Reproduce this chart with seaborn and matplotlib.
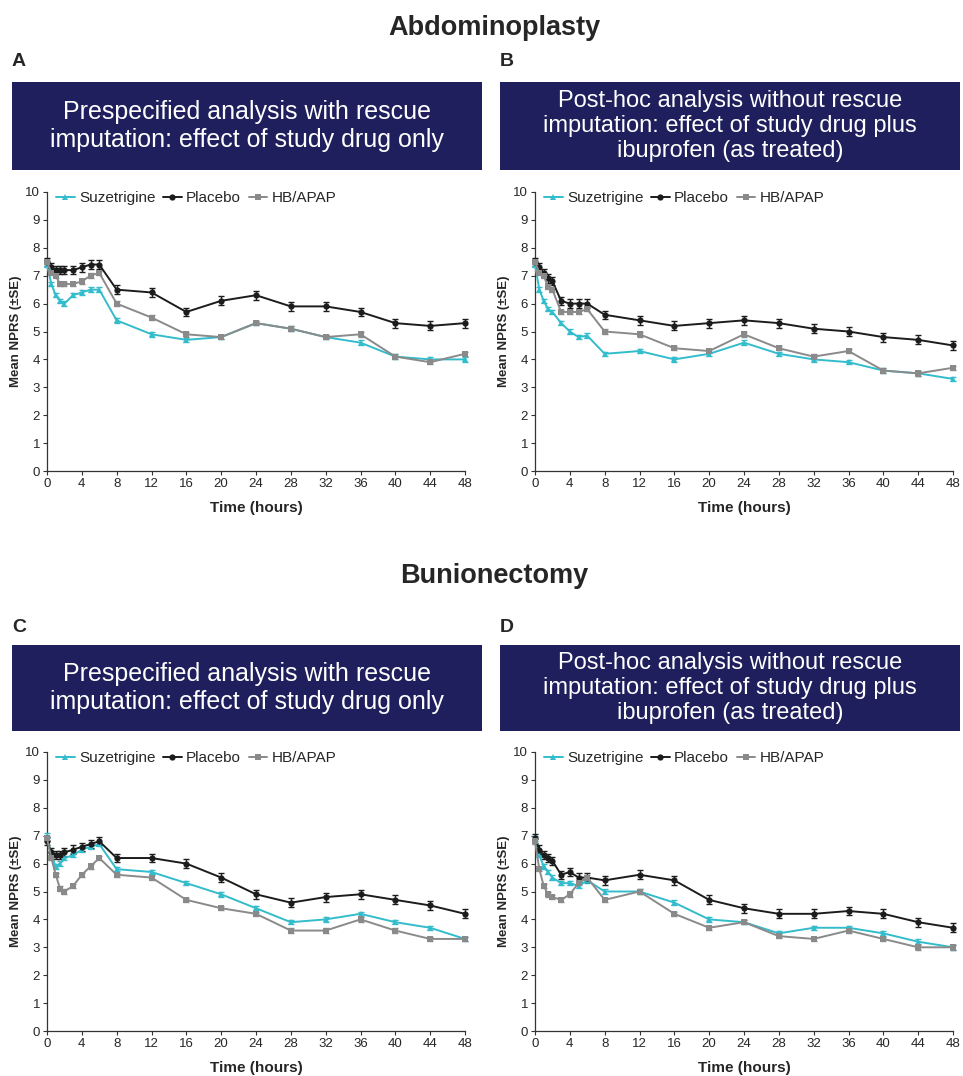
import numpy as np
import pandas as pd
import matplotlib
matplotlib.use("Agg")
import matplotlib.pyplot as plt
import seaborn as sns
from matplotlib.patches import Rectangle

sns.set_style("ticks")
plt.rcParams['font.family'] = ['Liberation Sans', 'DejaVu Sans']

# ---------------- data ----------------
times = [0, 0.5, 1, 1.5, 2, 3, 4, 5, 6, 8, 12, 16, 20, 24, 28, 32, 36, 40, 44, 48]
groups = ["Suzetrigine", "Placebo", "HB/APAP"]
xticks = [0, 4, 8, 12, 16, 20, 24, 28, 32, 36, 40, 44, 48]
yticks = [0, 1, 2, 3, 4, 5, 6, 7, 8, 9, 10]

# Panel A: Abdominoplasty, prespecified
A_suz = [7.4, 6.7, 6.3, 6.1, 6.0, 6.3, 6.4, 6.5, 6.5, 5.4, 4.9, 4.7, 4.8, 5.3, 5.1, 4.8, 4.6, 4.1, 4.0, 4.0]
A_pla = [7.5, 7.3, 7.2, 7.2, 7.2, 7.2, 7.3, 7.4, 7.4, 6.5, 6.4, 5.7, 6.1, 6.3, 5.9, 5.9, 5.7, 5.3, 5.2, 5.3]
A_hb  = [7.5, 7.1, 7.0, 6.7, 6.7, 6.7, 6.8, 7.0, 7.1, 6.0, 5.5, 4.9, 4.8, 5.3, 5.1, 4.8, 4.9, 4.1, 3.9, 4.2]
# Panel B: Abdominoplasty, post-hoc
B_suz = [7.4, 6.5, 6.1, 5.8, 5.7, 5.3, 5.0, 4.8, 4.85, 4.2, 4.3, 4.0, 4.2, 4.6, 4.2, 4.0, 3.9, 3.6, 3.5, 3.3]
B_pla = [7.5, 7.3, 7.1, 6.9, 6.8, 6.1, 6.0, 6.0, 6.0, 5.6, 5.4, 5.2, 5.3, 5.4, 5.3, 5.1, 5.0, 4.8, 4.7, 4.5]
B_hb  = [7.5, 7.1, 7.0, 6.6, 6.5, 5.7, 5.7, 5.7, 5.8, 5.0, 4.9, 4.4, 4.3, 4.9, 4.4, 4.1, 4.3, 3.6, 3.5, 3.7]
# Panel C: Bunionectomy, prespecified
C_suz = [7.0, 6.3, 5.9, 6.0, 6.2, 6.3, 6.5, 6.6, 6.7, 5.8, 5.7, 5.3, 4.9, 4.4, 3.9, 4.0, 4.2, 3.9, 3.7, 3.3]
C_pla = [6.8, 6.4, 6.3, 6.3, 6.4, 6.5, 6.6, 6.7, 6.8, 6.2, 6.2, 6.0, 5.5, 4.9, 4.6, 4.8, 4.9, 4.7, 4.5, 4.2]
C_hb  = [6.9, 6.2, 5.6, 5.1, 5.0, 5.2, 5.6, 5.9, 6.2, 5.6, 5.5, 4.7, 4.4, 4.2, 3.6, 3.6, 4.0, 3.6, 3.3, 3.3]
# Panel D: Bunionectomy, post-hoc
D_suz = [6.9, 6.3, 5.9, 5.7, 5.5, 5.3, 5.3, 5.2, 5.4, 5.0, 5.0, 4.6, 4.0, 3.9, 3.5, 3.7, 3.7, 3.5, 3.2, 3.0]
D_pla = [6.9, 6.5, 6.3, 6.2, 6.1, 5.6, 5.7, 5.5, 5.5, 5.4, 5.6, 5.4, 4.7, 4.4, 4.2, 4.2, 4.3, 4.2, 3.9, 3.7]
D_hb  = [6.8, 5.8, 5.2, 4.9, 4.8, 4.7, 4.9, 5.3, 5.5, 4.7, 5.0, 4.2, 3.7, 3.9, 3.4, 3.3, 3.6, 3.3, 3.0, 3.0]

# standard errors (approximate)
se_suz = [0.08, 0.08, 0.08, 0.08, 0.08, 0.08, 0.08, 0.08, 0.08, 0.08, 0.08, 0.08, 0.08, 0.08, 0.08, 0.08, 0.08, 0.08, 0.08, 0.08]
se_pla = [0.15, 0.15, 0.15, 0.15, 0.15, 0.15, 0.15, 0.15, 0.15, 0.15, 0.16, 0.16, 0.16, 0.16, 0.16, 0.16, 0.16, 0.16, 0.16, 0.16]
se_hb  = [0.08, 0.08, 0.08, 0.08, 0.08, 0.08, 0.08, 0.08, 0.08, 0.08, 0.08, 0.08, 0.08, 0.08, 0.08, 0.08, 0.08, 0.08, 0.08, 0.08]

section_titles = ["Abdominoplasty", "Bunionectomy"]
panel_letters = ["A", "B", "C", "D"]
banner_texts = [
    "Prespecified analysis with rescue\nimputation: effect of study drug only",
    "Post-hoc analysis without rescue\nimputation: effect of study drug plus\nibuprofen (as treated)",
    "Prespecified analysis with rescue\nimputation: effect of study drug only",
    "Post-hoc analysis without rescue\nimputation: effect of study drug plus\nibuprofen (as treated)",
]
panels = [(A_suz, A_pla, A_hb), (B_suz, B_pla, B_hb), (C_suz, C_pla, C_hb), (D_suz, D_pla, D_hb)]

colors = {"Suzetrigine": "#33bccb", "Placebo": "#1c1c1c", "HB/APAP": "#8a8a8a"}
markers = {"Suzetrigine": "^", "Placebo": "o", "HB/APAP": "s"}
navy = "#1e1f5c"

W, H = 963, 1076
fig = plt.figure(figsize=(W / 100, H / 100), dpi=100)

def fx(px):
    return px / W

def fy(py):
    return 1 - py / H

# section titles
fig.text(fx(494), fy(28), section_titles[0], ha="center", va="center", fontsize=19.5, fontweight="bold")
fig.text(fx(494), fy(576), section_titles[1], ha="center", va="center", fontsize=19.5, fontweight="bold")

ax_left = [47, 535]
ban_left = [12, 500]
ban_right = [482, 960]
row_top = [192, 752]
row_bot = [471, 1031]
letter_y = [62, 627]
ban_top = [82, 645]
ban_bot = [170, 731]

for i in range(4):
    r, c = divmod(i, 2)
    # letter
    fig.text(fx(ban_left[c]), fy(letter_y[r]), panel_letters[i], ha="left", va="center",
             fontsize=14, fontweight="bold")
    # banner
    bx0, bx1 = fx(ban_left[c]), fx(ban_right[c])
    by0, by1 = fy(ban_bot[r]), fy(ban_top[r])
    fig.patches.append(Rectangle((bx0, by0), bx1 - bx0, by1 - by0, transform=fig.transFigure,
                                 facecolor=navy, edgecolor="none", zorder=0))
    nlines = banner_texts[i].count("\n") + 1
    fig.text((bx0 + bx1) / 2, (by0 + by1) / 2, banner_texts[i], ha="center", va="center",
             color="white", fontsize=18 if nlines == 2 else 17,
             linespacing=1.2 if nlines == 2 else 1.17)

    # axes
    left = fx(ax_left[c])
    width = fx(465 + 488 * c) - left
    bottom = fy(row_bot[r])
    height = fy(row_top[r]) - bottom
    ax = fig.add_axes([left, bottom, width, height])

    suz, pla, hb = panels[i]
    df = pd.DataFrame({
        "Time": times * 3,
        "NPRS": suz + pla + hb,
        "Group": ["Suzetrigine"] * len(times) + ["Placebo"] * len(times) + ["HB/APAP"] * len(times),
    })
    ses = {"Suzetrigine": se_suz, "Placebo": se_pla, "HB/APAP": se_hb}
    for g in groups:
        sub = df[df["Group"] == g]
        ax.errorbar(sub["Time"], sub["NPRS"], yerr=ses[g], fmt="none", ecolor=colors[g],
                    elinewidth=1.0, capsize=2.2, capthick=1.0, clip_on=False, zorder=3)
    sns.lineplot(data=df, x="Time", y="NPRS", hue="Group", style="Group", hue_order=groups,
                 style_order=groups, palette=colors, markers=markers, dashes=False,
                 markersize=4.5, markeredgewidth=0, linewidth=1.4, ax=ax, clip_on=False, zorder=4)

    ax.set_xlim(0, 48)
    ax.set_ylim(0, 10)
    ax.set_xticks(xticks)
    ax.set_yticks(yticks)
    ax.tick_params(axis="both", labelsize=9.5, length=3, width=0.8, color="#333333", pad=2)
    for s in ["top", "right"]:
        ax.spines[s].set_visible(False)
    for s in ["left", "bottom"]:
        ax.spines[s].set_color("#333333")
        ax.spines[s].set_linewidth(0.9)
    ax.set_xlabel("Time (hours)", fontsize=11, fontweight="bold", labelpad=8)
    ax.set_ylabel("Mean NPRS (±SE)", fontsize=9.5, fontweight="bold", labelpad=2)

    handles, labels = ax.get_legend_handles_labels()
    ax.legend(handles=handles, labels=labels, ncol=3, frameon=False, loc="upper left",
              bbox_to_anchor=(0.0, 1.035), fontsize=11, handlelength=1.2, handletextpad=0.3,
              columnspacing=0.5, borderaxespad=0.2)

fig.savefig("out.png", dpi=100)
